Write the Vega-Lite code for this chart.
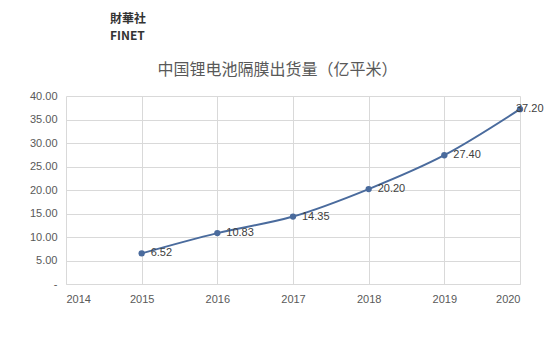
{
  "$schema": "https://vega.github.io/schema/vega-lite/v6.json",
  "width": 454,
  "height": 188,
  "autosize": {"type": "none"},
  "padding": {"left": 66, "top": 96, "right": 40, "bottom": 77},
  "background": "white",
  "config": {
    "font": "Noto Sans CJK SC",
    "view": {"stroke": null},
    "axis": {"labelFont": "Liberation Sans", "labelColor": "#595959", "labelFontSize": 11, "gridColor": "#d9d9d9", "domainColor": "#d9d9d9", "ticks": false}
  },
  "title": {
    "text": ["財華社", "FINET"],
    "anchor": "start",
    "frame": "group",
    "fontSize": 12,
    "lineHeight": 17,
    "fontWeight": "bold",
    "color": "#333333",
    "offset": 18,
    "dx": 44
  },
  "data": {
    "values": [
      {"year": 2015, "value": 6.52},
      {"year": 2016, "value": 10.83},
      {"year": 2017, "value": 14.35},
      {"year": 2018, "value": 20.20},
      {"year": 2019, "value": 27.40},
      {"year": 2020, "value": 37.20}
    ]
  },
  "encoding": {
    "x": {
      "field": "year", "type": "quantitative",
      "scale": {"domain": [2014, 2020], "nice": false, "zero": false},
      "axis": {"values": [2014, 2015, 2016, 2017, 2018, 2019, 2020], "format": "d", "title": null, "labelPadding": 9, "grid": true, "domain": true}
    },
    "y": {
      "field": "value", "type": "quantitative",
      "scale": {"domain": [0, 40], "nice": false},
      "axis": {"values": [0, 5, 10, 15, 20, 25, 30, 35, 40], "labelExpr": "datum.value == 0 ? '-' : format(datum.value, '.2f')", "labelPadding": 9, "domain": false,
        "title": "中国锂电池隔膜出货量（亿平米）", "titleAngle": 0, "titleColor": "#595959", "titleFontSize": 16, "titleFontWeight": "normal", "titleX": 211, "titleY": -22, "titleAlign": "center", "titleBaseline": "alphabetic"}
    }
  },
  "layer": [
    {"mark": {"type": "line", "interpolate": "monotone", "color": "#4a6b9d", "strokeWidth": 2}},
    {"mark": {"type": "point", "filled": true, "color": "#4a6b9d", "size": 40, "opacity": 1}},
    {"transform": [{"filter": "datum.year < 2020"}],
     "mark": {"type": "text", "align": "left", "dx": 9, "dy": 0, "fontSize": 11, "color": "#404040", "font": "Liberation Sans"},
     "encoding": {"text": {"field": "value", "type": "quantitative", "format": ".2f"}}},
    {"transform": [{"filter": "datum.year == 2020"}],
     "mark": {"type": "text", "align": "left", "dx": -4, "dy": 0, "fontSize": 11, "color": "#404040", "font": "Liberation Sans"},
     "encoding": {"text": {"field": "value", "type": "quantitative", "format": ".2f"}}}
  ]
}
